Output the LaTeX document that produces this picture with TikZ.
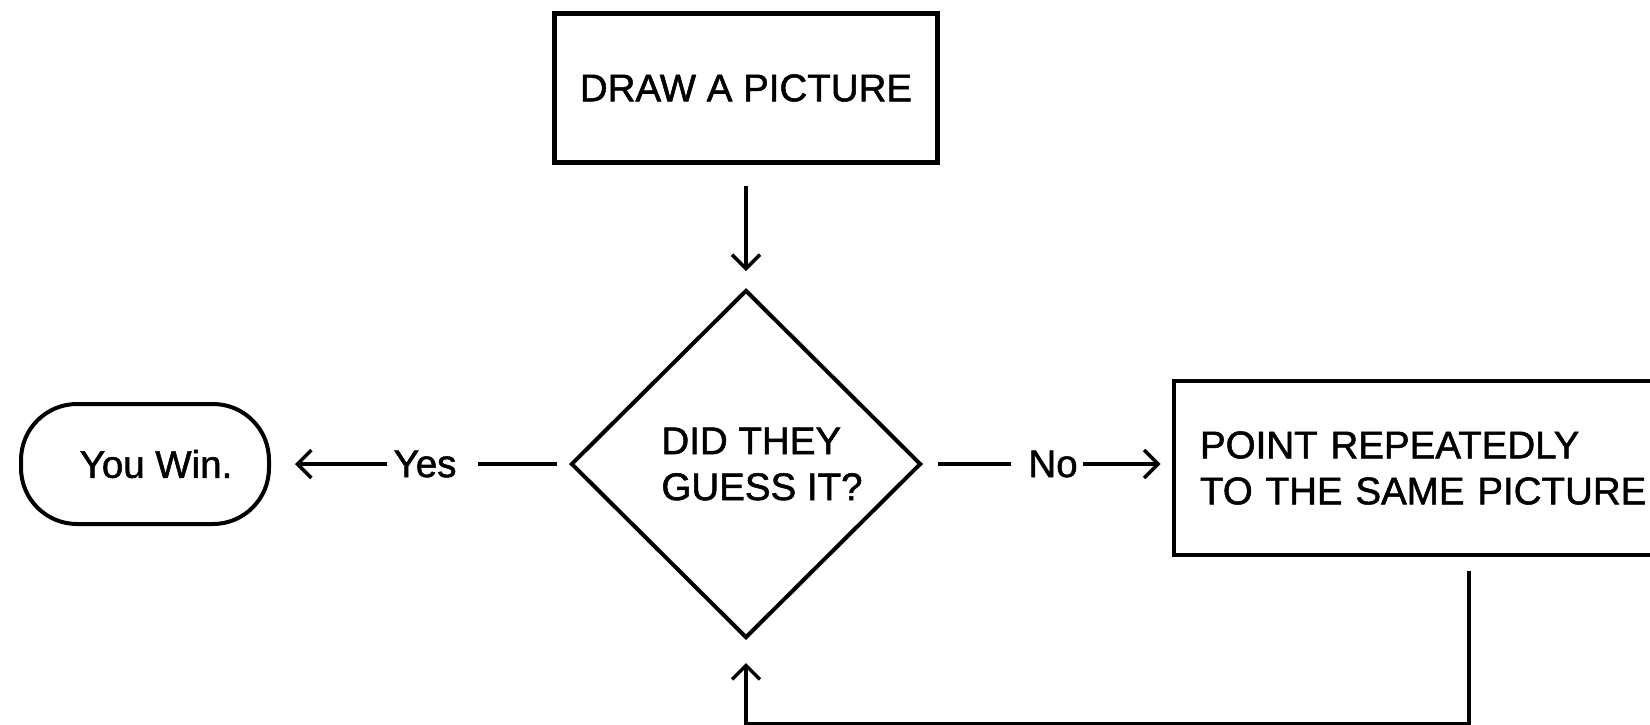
\documentclass[tikz,border=0pt]{standalone}
\usepackage{fontspec}
\setmainfont{Liberation Sans}[BoldFont={Liberation Sans}, BoldFeatures={FakeBold=1.4}]
\usetikzlibrary{arrows.meta,positioning,shapes.geometric,calc}
\tikzset{
  chbox/.style ={draw, line width=4.8pt, inner sep=0pt, align=left},
  chdec/.style ={draw, diamond, line width=4pt, inner sep=0pt, align=left,
                 minimum width=350pt, minimum height=348pt},
  chend/.style ={draw, rounded corners=56pt, line width=4pt, inner sep=0pt,
                 minimum width=248pt, minimum height=120pt},
  chlbl/.style ={inner sep=0pt},
  chline/.style={line width=3.5pt},
  charr/.style ={chline, -{Straight Barb[length=14pt,width=28pt]}},
}
\begin{document}
\begin{tikzpicture}[x=1pt, y=-1pt, font=\fontsize{38.5pt}{46pt}\selectfont\bfseries]
\useasboundingbox (0,0) rectangle (1650,724);
\clip (0,0) rectangle (1650,724);

\node[chbox, minimum width=383pt, minimum height=149pt] (pic) at (746,88) {DRAW A PICTURE};
\node[chdec] (guess) at (746,464) {\hspace*{32pt}DID THEY\\\hspace*{32pt}GUESS IT?};
\node[chend] (win) at (145,464) {\hspace*{22pt}You Win.};
\node[chbox, text width=538pt, inner xsep=26pt, minimum height=174pt] (point) at (1469,468)
  {POINT REPEATEDLY\\TO THE SAME PICTURE};

\node[chlbl] (yes) at (425,464) {Yes};
\node[chlbl] (no) at (1053,464) {No};

\draw[charr, shorten <=21pt, shorten >=17pt] (pic.south) -- (guess.north);
\draw[chline, shorten <=12pt, shorten >=21pt] (guess.west) -- (yes.east);
\draw[charr, shorten <=6pt, shorten >=24pt] (yes.west) -- (win.east);
\draw[chline, shorten <=15pt, shorten >=17pt] (guess.east) -- (no.west);
\draw[charr, shorten <=5pt, shorten >=11pt] (no.east) -- (no.east -| point.west);

% back to the question
\draw[charr, shorten <=14pt, shorten >=23pt] (point.south) -- ++(0,166) -| (guess.south);

\end{tikzpicture}
\end{document}
